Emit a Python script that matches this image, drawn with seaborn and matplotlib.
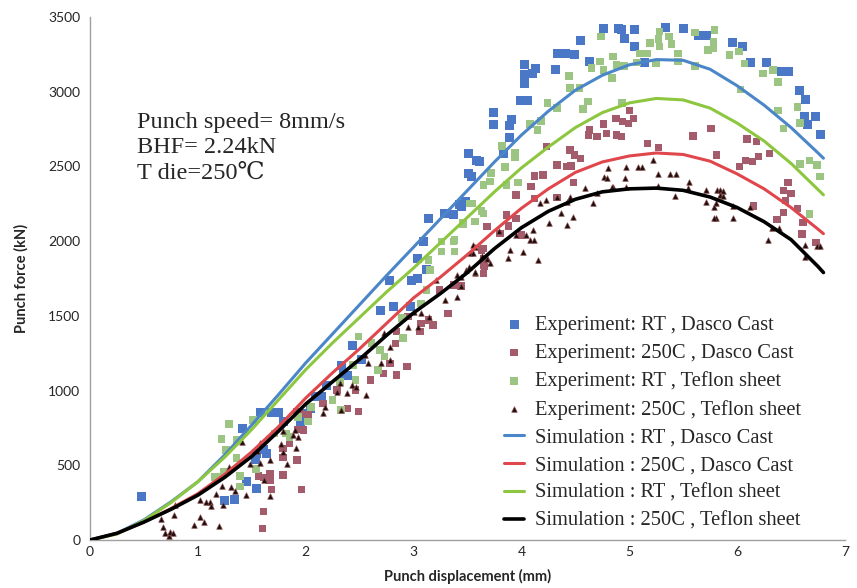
import numpy as np
import pandas as pd
import matplotlib
matplotlib.use("Agg")
import matplotlib.pyplot as plt
import seaborn as sns

# ---------------- data ----------------
exp_rt_dasco_x = [0.48, 1.41, 1.58, 1.68, 1.75, 1.79, 1.95, 1.54, 1.64, 1.45, 1.54, 1.25, 1.34, 1.53, 1.61, 2.01,
                  3.14, 3.29, 3.37, 3.44, 3.09, 3.04, 3.12, 2.98, 3.04, 2.78, 2.69, 2.81, 2.97, 2.43, 2.52, 2.35,
                  2.39, 2.19, 2.09, 2.15, 2.04, 2.33,
                  4.76, 4.90, 4.55, 4.33, 4.41, 4.49, 4.63, 4.32, 4.03, 4.13, 4.10, 4.03, 4.03, 3.99, 4.06, 3.74,
                  3.74, 3.91, 3.89, 3.89, 3.83, 3.51, 3.58, 3.61, 3.51, 3.54, 3.43, 3.48,
                  4.93, 5.05, 4.96, 5.34, 5.50, 5.64, 5.72, 5.05, 5.14,
                  5.96, 6.05, 6.12, 6.27, 6.41, 6.48, 6.58, 6.63, 6.62, 6.73, 6.65, 6.77]
exp_rt_dasco_y = [294, 748, 852, 852, 852, 792, 785, 580, 580, 390, 346, 263, 268, 540, 607, 848,
                  2153, 2186, 2175, 2231, 1997, 1885, 1807, 1740, 1751, 1740, 1539, 1561, 1561, 1305, 1205, 1116,
                  1104, 1037, 959, 959, 881, 1171,
                  3425, 3425, 3340, 3257, 3257, 3252, 3201, 3150, 3184, 3157, 3123, 3112, 3052, 2938, 2938, 2860,
                  2778, 2811, 2771, 2695, 2588, 2588, 2543, 2532, 2454, 2432, 2242, 2264,
                  3418, 3418, 3358, 3431, 3425, 3373, 3373, 3302, 3195,
                  3329, 3302, 3195, 3195, 3135, 3135, 3007, 2945, 2833, 2833, 2778, 2711]

exp_250_dasco_x = [1.60, 1.61, 1.68, 1.67, 1.67, 1.61, 1.79, 1.96, 1.92, 1.79, 1.79, 1.85, 1.93, 1.98, 1.92, 2.02, 1.56,
                   3.63, 3.65, 3.65, 3.37, 3.44, 3.24, 3.32, 3.18, 3.14, 3.07, 3.06, 2.95, 2.84, 2.83, 2.78, 2.72,
                   2.84, 2.94, 2.60, 2.46, 2.49, 2.39, 2.29, 2.16, 1.95,
                   4.87, 4.79, 4.76, 4.70, 4.62, 4.63, 4.45, 4.49, 4.55, 4.42, 4.46, 4.23, 4.33, 4.20, 4.12, 4.48,
                   4.09, 3.95, 4.12, 4.33, 3.95, 3.86, 3.88, 3.68, 3.80, 4.00, 3.65, 3.65, 3.66, 4.88,
                   5.00, 4.88, 4.94, 4.99, 5.04, 4.93, 5.17, 5.27, 5.59, 5.75, 5.81,
                   5.76, 6.09, 6.18, 6.30, 6.20, 6.14, 6.08, 6.02, 6.47, 6.43, 6.50, 6.45, 6.56, 6.43, 6.15,
                   6.37, 6.61, 6.60, 6.73]
exp_250_dasco_y = [78, 190, 339, 402, 442, 420, 435, 339, 535, 553, 614, 647, 741, 736, 859, 837, 428,
                   1941, 1841, 1785, 1707, 1700, 1673, 1517, 1439, 1472, 1450, 1394, 1494, 1394, 1317, 1183, 1116,
                   1104, 1160, 1071, 1004, 859, 881, 1004, 915, 848,
                   2822, 2722, 2784, 2699, 2711, 2744, 2610, 2577, 2555, 2498, 2503, 2632, 2510, 2443, 2436, 2392,
                   2365, 2309, 2287, 2291, 2153, 2175, 2102, 2097, 2053, 2041, 1952, 1885, 1829, 2711,
                   2873, 2822, 2800, 2789, 2822, 2699, 2655, 2626, 2704, 2755, 2577,
                   2755, 2684, 2666, 2588, 2565, 2532, 2539, 2498, 2392, 2338, 2320, 2271, 2220, 2191, 2236,
                   2146, 2124, 2048, 1990]

exp_rt_teflon_x = [1.29, 1.22, 1.26, 1.36, 1.51, 1.71, 1.82, 1.85, 1.19, 1.16, 1.24, 1.39, 1.36, 1.54, 1.39, 1.93, 2.02,
                   3.54, 3.63, 3.46, 3.57, 3.26, 3.37, 3.26, 3.14, 3.15, 3.12, 3.07, 2.89, 2.90, 2.49, 2.61, 2.69,
                   2.73, 2.44, 2.67, 2.46, 2.32, 2.25, 2.05, 2.33,
                   4.74, 4.85, 4.88, 4.73, 4.65, 4.76, 4.84, 4.44, 4.45, 4.54, 4.24, 4.33, 4.62, 4.57, 4.18, 4.08,
                   4.15, 3.82, 3.94, 3.94, 3.85, 3.72, 3.65, 3.71, 3.97, 3.86, 3.52, 3.63, 3.65, 3.46, 3.38, 3.38,
                   4.95, 5.10, 5.17, 5.07, 5.25, 5.19, 5.28, 5.27, 5.28, 5.37, 5.39, 5.45, 5.45, 5.61, 5.61, 5.73,
                   5.79, 5.78, 4.93,
                   5.78, 5.78, 5.93, 6.02, 6.07, 6.24, 6.33, 6.38, 6.03, 6.56, 6.38, 6.43, 6.58, 6.58, 6.67, 6.74,
                   6.77, 6.67]
exp_rt_teflon_y = [776, 674, 602, 669, 803, 714, 714, 691, 424, 420, 457, 428, 547, 475, 357, 825, 792,
                   2253, 2198, 2120, 2131, 1997, 1997, 1930, 1874, 1807, 1673, 1584, 1484, 1350, 1361, 1317, 1272,
                   1227, 1171, 1138, 1071, 1059, 937, 892, 870,
                   3369, 3235, 3179, 3201, 3157, 3145, 3090, 3104, 3023, 3023, 2923, 2889, 2934, 2883, 2806, 2784,
                   2744, 2637, 2588, 2561, 2498, 2454, 2376, 2398, 2392, 2376, 2253, 2204, 2186, 2115, 2008, 1930,
                   3172, 3257, 3257, 3195, 3190, 3324, 3403, 3351, 3302, 3369, 3320, 3257, 3201, 3396, 3172, 3280,
                   3413, 3313, 2923,
                   3335, 3291, 3246, 3268, 3190, 3123, 3146, 3067, 3016, 2896, 2873, 2755, 2789, 2517, 2539, 2510,
                   2432, 2182]

exp_250_teflon_x = [0.66, 0.68, 0.70, 0.73, 0.74, 0.77, 0.78, 0.79, 0.96, 1.02, 1.06, 1.02, 1.08, 1.11, 1.12, 1.17,
                    1.22, 1.20, 1.23, 1.31, 1.34, 1.29, 1.45, 1.41, 1.48, 1.58, 1.55, 1.58, 1.61, 1.67, 1.67, 1.77,
                    1.79, 1.83, 1.79, 1.90, 1.91, 1.93, 1.88,
                    3.55, 3.52, 3.68, 3.49, 3.57, 3.44, 3.40, 3.21, 3.44, 3.29, 3.40, 3.00, 3.07, 3.14, 2.95, 3.04,
                    2.78, 2.73, 2.55, 2.58, 2.70, 2.78, 2.32, 2.43, 2.47, 2.38, 2.56, 2.29, 2.33, 2.18, 2.16,
                    4.80, 4.77, 4.79, 4.85, 4.59, 4.70, 4.66, 4.33, 4.45, 4.42, 4.23, 4.17, 4.48, 4.37, 4.26, 4.42,
                    4.11, 4.04, 4.08, 3.79, 3.95, 3.89, 4.01, 4.12, 3.88, 4.15, 3.57, 3.55, 3.63, 3.68, 3.71, 3.51, 3.57,
                    4.97, 5.08, 5.12, 5.22, 5.27, 5.38, 5.43, 4.96, 4.84, 4.97, 5.27, 5.55, 5.54, 5.42, 5.71, 5.81,
                    5.71, 5.80, 5.80,
                    5.84, 5.87, 5.84, 5.87, 5.79, 5.96, 6.12, 5.79, 5.96, 6.32, 6.39, 6.29, 6.63, 6.74, 6.77, 6.63]
exp_250_teflon_y = [138, 85, 45, 27, 56, 49, 167, 234, 100, 156, 122, 268, 256, 256, 228, 308,
                    361, 94, 234, 357, 330, 491, 301, 658, 509, 513, 598, 651, 402, 535, 294, 642,
                    591, 507, 732, 736, 614, 691, 703,
                    1974, 1919, 1885, 1807, 1785, 1762, 1774, 1740, 1700, 1606, 1624, 1528, 1517, 1494, 1428, 1428,
                    1294, 1383, 1238, 1183, 1183, 1205, 1049, 1037, 1026, 982, 970, 993, 870, 892, 848,
                    2488, 2432, 2421, 2365, 2354, 2320, 2258, 2298, 2298, 2264, 2276, 2253, 2164, 2191, 2120, 2108,
                    2075, 2041, 2008, 2070, 2041, 1941, 1930, 2008, 1885, 1874, 1963, 1919, 1901, 1879, 1856, 1829, 1796,
                    2498, 2498, 2498, 2543, 2450, 2448, 2448, 2421, 2365, 2365, 2369, 2394, 2354, 2304, 2343, 2343,
                    2264, 2258, 2153,
                    2343, 2338, 2309, 2302, 2231, 2236, 2231, 2153, 2153, 2086, 2086, 2008, 1974, 1968, 1968, 1892]

sim_x = [0.0, 0.25, 0.5, 0.75, 1.0, 1.25, 1.5, 1.75, 2.0, 2.25, 2.5, 2.75, 3.0, 3.25, 3.5, 3.75,
         4.0, 4.25, 4.5, 4.75, 5.0, 5.25, 5.5, 5.75, 6.0, 6.25, 6.5, 6.75, 6.8]
sim_rt_dasco = [0, 45, 135, 255, 390, 570, 770, 975, 1185, 1380, 1575, 1770, 1960, 2150, 2340, 2530,
                2710, 2870, 3010, 3110, 3180, 3215, 3210, 3150, 3040, 2910, 2760, 2590, 2555]
sim_250_dasco = [0, 45, 120, 210, 310, 440, 590, 760, 950, 1120, 1280, 1450, 1620, 1760, 1910, 2070,
                 2220, 2350, 2460, 2530, 2570, 2590, 2580, 2535, 2450, 2350, 2225, 2080, 2050]
sim_rt_teflon = [0, 40, 130, 250, 390, 555, 740, 940, 1140, 1320, 1490, 1660, 1820, 1990, 2160, 2330,
                 2490, 2630, 2760, 2860, 2925, 2955, 2945, 2890, 2790, 2670, 2520, 2345, 2310]
sim_250_teflon = [0, 45, 120, 205, 300, 420, 560, 730, 910, 1060, 1210, 1370, 1520, 1650, 1790, 1950,
                  2090, 2200, 2280, 2330, 2350, 2355, 2340, 2295, 2225, 2130, 2010, 1830, 1790]

x_ticks = [0, 1, 2, 3, 4, 5, 6, 7]
y_ticks = [0, 500, 1000, 1500, 2000, 2500, 3000, 3500]

# ---------------- plot ----------------
sns.set_style("white")
plt.rcParams['font.family'] = ['Lato', 'DejaVu Sans']

fig = plt.figure(figsize=(8.57, 5.88), dpi=100)
ax = fig.add_axes([0.105, 0.0816, 0.881, 0.8895])

serif = ['Liberation Serif', 'DejaVu Serif']

sns.scatterplot(x=exp_rt_dasco_x, y=exp_rt_dasco_y, ax=ax, marker='s', s=42, color='#4A78C6',
                edgecolor='none', label='Experiment: RT , Dasco Cast', zorder=3)
sns.scatterplot(x=exp_250_dasco_x, y=exp_250_dasco_y, ax=ax, marker='s', s=28, color='#A45C6C',
                edgecolor='none', label='Experiment: 250C , Dasco Cast', zorder=3)
sns.scatterplot(x=exp_rt_teflon_x, y=exp_rt_teflon_y, ax=ax, marker='s', s=30, color='#9CC482',
                edgecolor='none', label='Experiment: RT , Teflon sheet', zorder=3)
sns.scatterplot(x=exp_250_teflon_x, y=exp_250_teflon_y, ax=ax, marker='^', s=16, color='#1A0E0E',
                edgecolor='#8A4A4A', linewidth=0.5, label='Experiment: 250C , Teflon sheet', zorder=4)

sns.lineplot(x=sim_x, y=sim_rt_dasco, ax=ax, color='#4A86C8', lw=2.2,
             label='Simulation : RT , Dasco Cast', zorder=5)
sns.lineplot(x=sim_x, y=sim_250_dasco, ax=ax, color='#E0474C', lw=2.2,
             label='Simulation : 250C , Dasco Cast', zorder=5)
sns.lineplot(x=sim_x, y=sim_rt_teflon, ax=ax, color='#8DC63F', lw=2.2,
             label='Simulation : RT , Teflon sheet', zorder=5)
sns.lineplot(x=sim_x, y=sim_250_teflon, ax=ax, color='#000000', lw=2.6,
             label='Simulation : 250C , Teflon sheet', zorder=6)

ax.set_xlim(0, 7)
ax.set_ylim(0, 3500)
ax.set_xticks(x_ticks)
ax.set_yticks(y_ticks)
ax.set_xticklabels([str(t) for t in x_ticks], fontsize=10)
ax.set_yticklabels([str(t) for t in y_ticks], fontsize=10)
ax.tick_params(axis='y', length=4, color='#A0A0A0', pad=3)
ax.tick_params(axis='x', length=0, pad=4)

for s in ['top', 'right']:
    ax.spines[s].set_visible(False)
for s in ['left', 'bottom']:
    ax.spines[s].set_color('#A0A0A0')
    ax.spines[s].set_linewidth(1.0)

ax.set_xlabel('Punch displacement (mm)', fontsize=10.5, fontweight='bold', labelpad=8)
ax.set_ylabel('Punch force (kN)', fontsize=10.5, fontweight='bold', labelpad=14)

ax.text(0.062, 0.799, 'Punch speed= 8mm/s', transform=ax.transAxes, family=serif, fontsize=17.5, va='center')
ax.text(0.062, 0.750, 'BHF= 2.24kN', transform=ax.transAxes, family=serif, fontsize=17.5, va='center')
ax.text(0.062, 0.702, 'T die=250\u2103', transform=ax.transAxes, family=serif, fontsize=17.5, va='center')

leg = ax.legend(loc='upper left', bbox_to_anchor=(0.548, 0.429), frameon=False,
                prop={'family': serif, 'size': 14.8}, handlelength=1.0, handletextpad=0.5,
                labelspacing=0.41, borderaxespad=0, borderpad=0)

fig.savefig('out.png', dpi=100)
